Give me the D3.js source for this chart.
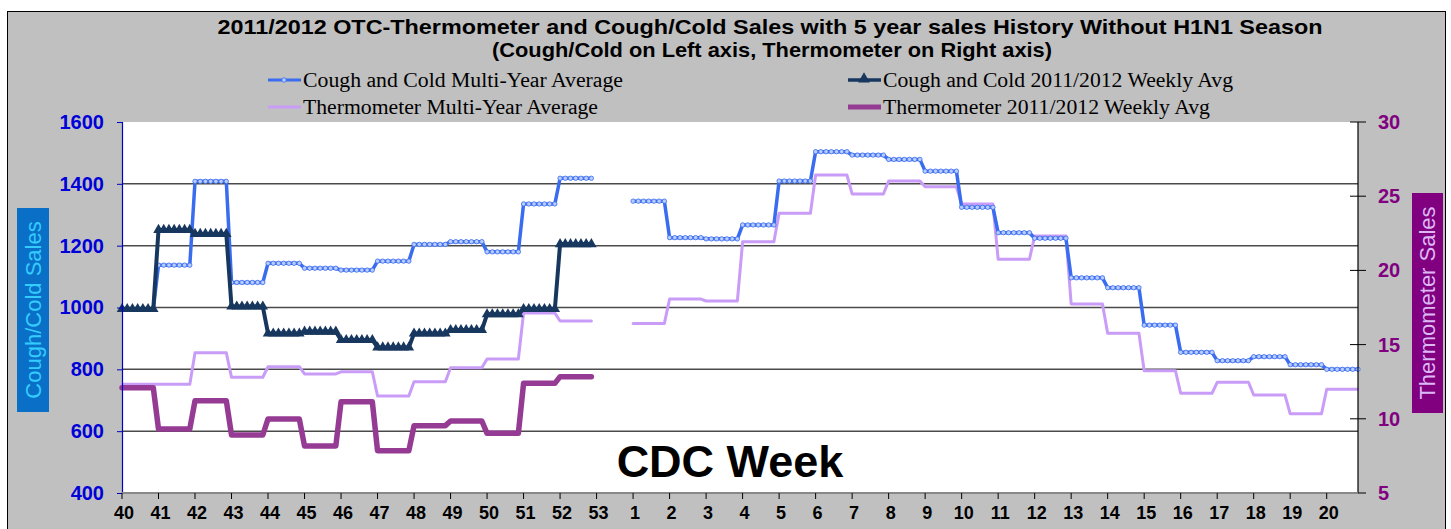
<!DOCTYPE html>
<html><head><meta charset="utf-8">
<script src="https://cdn.jsdelivr.net/npm/d3@7"></script>
<style>body{margin:0;background:#fff}svg{display:block}</style>
</head><body><svg id="c" width="1451" height="529"></svg>
<script>
// ---- data ----
const weeks = ["40","41","42","43","44","45","46","47","48","49","50","51","52","53",
  "1","2","3","4","5","6","7","8","9","10","11","12","13","14","15","16","17","18","19","20"];
const coughAvg = [995,1137,1408,1081,1143,1127,1121,1150,1204,1213,1180,1335,1418,null,
  1344,1226,1222,1267,1409,1504,1493,1479,1441,1324,1242,1224,1096,1064,943,855,828,841,815,800];
const cough1112 = [995,1251,1238,1003,916,922,895,871,916,927,978,995,1205,null,
  null,null,null,null,null,null,null,null,null,null,null,null,null,null,null,null,null,null,null,null];
const thermoAvg = [12.32,12.32,14.45,12.80,13.51,13.02,13.17,11.54,12.50,13.44,14.03,17.13,16.59,null,
  16.43,18.07,17.94,21.93,23.85,26.43,25.15,26.02,25.64,24.47,20.75,22.32,17.74,15.76,13.24,11.72,12.46,11.60,10.34,11.99];
const thermo1112 = [12.10,9.31,11.22,8.91,9.99,8.17,11.15,7.85,9.54,9.85,9.02,12.39,12.84,null,
  null,null,null,null,null,null,null,null,null,null,null,null,null,null,null,null,null,null,null,null];
const leftTicks = [400,600,800,1000,1200,1400,1600];
const gridTicks = [600,800,1000,1200,1400];
const rightTicks = [5,10,15,20,25,30];
const daysPerWeek = 7;
const titleLine1 = "2011/2012 OTC-Thermometer and Cough/Cold Sales with 5 year sales History Without H1N1 Season";
const titleLine2 = "(Cough/Cold on Left axis, Thermometer on Right axis)";

// ---- setup ----
const svg = d3.select("#c");
const nDays = weeks.length*daysPerWeek;
const x = d3.scaleLinear().domain([0, nDays-1]).range([122,1358]);
const yL = d3.scaleLinear().domain([400,1600]).range([493,122]);
const yR = d3.scaleLinear().domain([5,30]).range([493,122]);
const SANS = "'Liberation Sans', Arial, sans-serif";
const SERIF = "'Liberation Serif', 'Times New Roman', serif";

// daily expansion of weekly averages (each day of a week carries its week's average)
function daily(arr){
  const out=[];
  arr.forEach((v,i)=>{ for(let d=0; d<daysPerWeek; d++) out.push({day:i*daysPerWeek+d, v}); });
  return out;
}

// background
svg.append("rect").attr("x",7.5).attr("y",11.5).attr("width",1438).attr("height",540)
  .attr("fill","#c0c0c0").attr("stroke","#000").attr("stroke-width",1);
svg.append("rect").attr("x",122).attr("y",122).attr("width",1236).attr("height",371).attr("fill","#fff");

// gridlines
svg.append("g").selectAll("line").data(gridTicks).join("line")
  .attr("x1",122).attr("x2",1358).attr("y1",d=>yL(d)).attr("y2",d=>yL(d))
  .attr("stroke","#4a4a4a").attr("stroke-width",1.5);

// lines
function drawLine(arr, y, color, width){
  const line = d3.line().defined(d=>d.v!==null).x(d=>x(d.day)).y(d=>y(d.v));
  svg.append("path").datum(daily(arr)).attr("d",line).attr("fill","none")
    .attr("stroke",color).attr("stroke-width",width).attr("stroke-linejoin","round").attr("stroke-linecap","round");
}
drawLine(thermoAvg, yR, "#c99cf7", 3);
drawLine(thermo1112, yR, "#953b93", 5.5);
drawLine(coughAvg, yL, "#3a6cf0", 3.5);
svg.append("g").selectAll("circle").data(daily(coughAvg).filter(d=>d.v!==null)).join("circle")
  .attr("cx",d=>x(d.day)).attr("cy",d=>yL(d.v)).attr("r",2.2)
  .attr("fill","#b8ccff").attr("stroke","#3a6cf0").attr("stroke-width",0.8);
drawLine(cough1112, yL, "#17375e", 4);
const tri = d3.symbol().type(d3.symbolTriangle).size(48);
svg.append("g").selectAll("path").data(daily(cough1112).filter(d=>d.v!==null)).join("path")
  .attr("d",tri).attr("transform",d=>`translate(${x(d.day)},${yL(d.v)})`).attr("fill","#17375e");

// left axis
const gl = svg.append("g").attr("transform","translate(122,0)")
  .call(d3.axisLeft(yL).tickValues(leftTicks).tickSize(5).tickPadding(13).tickFormat(d3.format("d")));
gl.select(".domain").attr("stroke","#0000cc").attr("stroke-width",1.2);
gl.selectAll(".tick line").attr("stroke","#0000cc");
gl.selectAll(".tick text").attr("fill","#0000d8").style("font-family",SANS).style("font-size","20px").style("font-weight","bold");

// right axis
const gr = svg.append("g");
gr.append("line").attr("x1",1358).attr("x2",1358).attr("y1",122).attr("y2",493).attr("stroke","#000").attr("stroke-width",1.2);
gr.selectAll("line.t").data(rightTicks).join("line").attr("class","t")
  .attr("x1",1350).attr("x2",1366).attr("y1",d=>yR(d)).attr("y2",d=>yR(d)).attr("stroke","#000");
gr.selectAll("text").data(rightTicks).join("text")
  .attr("x",1378).attr("y",d=>yR(d)).attr("dy","0.35em").text(d=>d)
  .attr("fill","#800080").style("font-family",SANS).style("font-size","20px").style("font-weight","bold");

// x axis
const gx = svg.append("g");
gx.append("line").attr("x1",122).attr("x2",1358).attr("y1",493).attr("y2",493).attr("stroke","#888").attr("stroke-width",2);
gx.selectAll("line.t").data(weeks).join("line").attr("class","t")
  .attr("x1",(d,i)=>x(i*daysPerWeek)).attr("x2",(d,i)=>x(i*daysPerWeek)).attr("y1",493).attr("y2",499).attr("stroke","#000");
gx.selectAll("text").data(weeks).join("text")
  .attr("x",(d,i)=>x(i*daysPerWeek)+2).attr("y",519).attr("text-anchor","middle").text(d=>d)
  .attr("fill","#000").style("font-family",SANS).style("font-size","18px").style("font-weight","bold");

// CDC Week label
svg.append("text").attr("x",730).attr("y",477).attr("text-anchor","middle").text("CDC Week")
  .style("font-family",SANS).style("font-size","45px").style("font-weight","bold").attr("fill","#000");

// axis titles
svg.append("rect").attr("x",17).attr("y",208).attr("width",32).attr("height",204).attr("fill","#0a6fc6");
svg.append("text").attr("transform","translate(41,310) rotate(-90)").attr("text-anchor","middle").text("Cough/Cold Sales")
  .attr("fill","#33ccff").style("font-family",SANS).style("font-size","22px");
svg.append("rect").attr("x",1412).attr("y",193).attr("width",31).attr("height",220).attr("fill","#800080");
svg.append("text").attr("transform","translate(1435,303) rotate(-90)").attr("text-anchor","middle").text("Thermometer Sales")
  .attr("fill","#dcb8f5").style("font-family",SANS).style("font-size","22px");

// title
svg.append("text").attr("x",770).attr("y",34).attr("text-anchor","middle").text(titleLine1)
  .attr("textLength",1105).attr("lengthAdjust","spacingAndGlyphs")
  .style("font-family",SANS).style("font-size","21px").style("font-weight","bold");
svg.append("text").attr("x",772).attr("y",57).attr("text-anchor","middle").text(titleLine2)
  .attr("textLength",560).attr("lengthAdjust","spacingAndGlyphs")
  .style("font-family",SANS).style("font-size","21px").style("font-weight","bold");

// legend
const legend = [
  {label:"Cough and Cold Multi-Year Average", x:268, y:80, w:320, color:"#3a6cf0", sw:3, mark:"dot"},
  {label:"Thermometer Multi-Year Average", x:268, y:107, w:295, color:"#c99cf7", sw:3, mark:null},
  {label:"Cough and Cold 2011/2012 Weekly Avg", x:848, y:80, w:350, color:"#17375e", sw:3.5, mark:"tri"},
  {label:"Thermometer 2011/2012 Weekly Avg", x:848, y:107, w:327, color:"#953b93", sw:5, mark:null}
];
const lg = svg.append("g").selectAll("g").data(legend).join("g");
lg.append("line").attr("x1",d=>d.x).attr("x2",d=>d.x+33).attr("y1",d=>d.y).attr("y2",d=>d.y)
  .attr("stroke",d=>d.color).attr("stroke-width",d=>d.sw);
lg.filter(d=>d.mark==="dot").append("circle").attr("cx",d=>d.x+16).attr("cy",d=>d.y).attr("r",2.2)
  .attr("fill","#b8ccff").attr("stroke","#3a6cf0").attr("stroke-width",0.8);
lg.filter(d=>d.mark==="tri").append("path").attr("d",d3.symbol().type(d3.symbolTriangle).size(60))
  .attr("transform",d=>`translate(${d.x+16},${d.y-1})`).attr("fill","#17375e");
lg.append("text").attr("x",d=>d.x+35).attr("y",d=>d.y+7).text(d=>d.label)
  .attr("textLength",d=>d.w).attr("lengthAdjust","spacingAndGlyphs")
  .style("font-family",SERIF).style("font-size","20px").attr("fill","#000");
</script></body></html>
